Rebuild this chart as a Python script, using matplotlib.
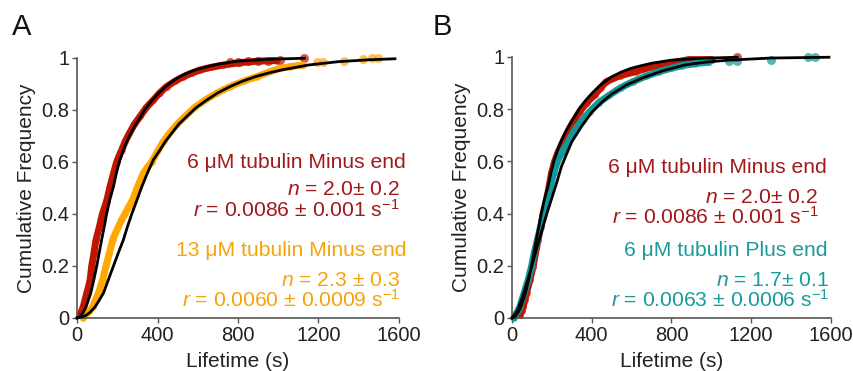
import matplotlib
matplotlib.use('Agg')
import matplotlib.pyplot as plt

plt.rcParams['font.family'] = ['Liberation Sans', 'DejaVu Sans']
plt.rcParams['mathtext.fontset'] = 'custom'
plt.rcParams['mathtext.rm'] = 'Liberation Sans'
plt.rcParams['mathtext.it'] = 'Liberation Sans:italic'

# ---- data (lifetime in s, cumulative frequency) ----
# panel A, 6 uM minus end
minus6a_t = [15, 22, 31, 40, 48, 57, 65, 73, 84, 94, 111, 126, 147, 164, 181, 197, 210, 222, 240, 260,
             285, 313, 345, 379, 410, 445, 485, 528, 570, 611, 665, 727, 810, 900, 993]
minus6a_f = [0.01, 0.025, 0.043, 0.07, 0.095, 0.12, 0.146, 0.2, 0.25, 0.30, 0.35, 0.40, 0.45, 0.505, 0.555,
             0.60, 0.625, 0.646, 0.68, 0.71, 0.745, 0.775, 0.81, 0.838, 0.865, 0.89, 0.91, 0.928, 0.942,
             0.954, 0.964, 0.973, 0.982, 0.988, 0.99]
minus6a_tail_t = [760, 800, 850, 900, 950, 1008, 1128]
minus6a_tail_f = [0.985, 0.986, 0.988, 0.99, 0.99, 0.992, 1.0]

# panel A, 13 uM minus end
minus13_t = [30, 40, 60, 78, 92, 106, 127, 144, 161, 177, 190, 205, 220, 238, 257, 276, 301, 329, 350, 371,
             404, 430, 459, 497, 537, 585, 636, 695, 760, 825, 893, 950, 1008, 1060, 1125]
minus13_f = [0.0, 0.01, 0.025, 0.043, 0.07, 0.095, 0.146, 0.2, 0.25, 0.30, 0.325, 0.35, 0.375, 0.40, 0.428,
             0.454, 0.505, 0.556, 0.58, 0.60, 0.646, 0.68, 0.71, 0.745, 0.775, 0.81, 0.838, 0.865, 0.89,
             0.91, 0.928, 0.945, 0.96, 0.967, 0.973]
minus13_tail_t = [1192, 1222, 1328, 1421, 1464, 1497]
minus13_tail_f = [0.983, 0.983, 0.99, 0.996, 1.0, 1.0]

# panel B, 6 uM minus end
minus6b_t = [40, 48, 56, 65, 73, 90, 106, 118, 131, 145, 156, 173, 186, 198, 214, 230, 248, 268, 289, 314,
             339, 375, 414, 445, 472, 540, 621, 700, 788, 887, 950, 1003]
minus6b_f = [0.01, 0.025, 0.043, 0.07, 0.095, 0.146, 0.197, 0.248, 0.30, 0.35, 0.40, 0.452, 0.503, 0.554,
             0.60, 0.633, 0.663, 0.695, 0.727, 0.76, 0.79, 0.825, 0.854, 0.882, 0.905, 0.928, 0.944, 0.962,
             0.976, 0.99, 0.99, 0.99]
minus6b_tail_t = [1127]
minus6b_tail_f = [1.0]

# panel B, 6 uM plus end
plus6_t = [10, 15, 28, 40, 50, 61, 81, 98, 111, 128, 143, 160, 176, 193, 209, 228, 250, 273, 297, 322, 355,
           389, 435, 489, 545, 605, 670, 738, 800, 854, 920, 987]
plus6_f = [0.0, 0.01, 0.025, 0.043, 0.07, 0.095, 0.146, 0.197, 0.248, 0.30, 0.35, 0.40, 0.452, 0.503, 0.554,
           0.60, 0.633, 0.663, 0.695, 0.727, 0.76, 0.79, 0.825, 0.854, 0.882, 0.905, 0.926, 0.944, 0.957,
           0.967, 0.975, 0.98]
plus6_tail_t = [1087, 1127, 1301, 1486, 1520]
plus6_tail_f = [0.985, 0.985, 0.99, 1.0, 1.0]

# gamma fits (black lines)
fit_minus6_t = [0, 15, 30, 45, 68, 83, 98, 110, 122, 135, 147, 163, 181, 195, 210, 230, 248, 267, 290, 313,
                340, 371, 400, 437, 470, 503, 550, 595, 650, 700, 800, 950, 1130]
fit_minus6_f = [0.0, 0.005, 0.02, 0.043, 0.095, 0.145, 0.2, 0.25, 0.3, 0.35, 0.4, 0.455, 0.505, 0.555, 0.6,
                0.646, 0.68, 0.71, 0.742, 0.77, 0.805, 0.835, 0.86, 0.888, 0.908, 0.925, 0.943, 0.956,
                0.967, 0.976, 0.988, 0.995, 0.999]
fit_minus13_t = [0, 40, 65, 90, 110, 131, 156, 181, 205, 230, 250, 272, 297, 322, 350, 379, 412, 440, 470,
                 505, 545, 590, 644, 700, 760, 820, 885, 950, 1017, 1150, 1300, 1450, 1580]
fit_minus13_f = [0.0, 0.008, 0.022, 0.043, 0.068, 0.095, 0.148, 0.2, 0.25, 0.3, 0.35, 0.4, 0.452, 0.505,
                 0.558, 0.608, 0.646, 0.68, 0.71, 0.745, 0.775, 0.808, 0.838, 0.866, 0.89, 0.91, 0.928,
                 0.942, 0.954, 0.973, 0.986, 0.993, 0.997]
fit_plus6_t = [0, 25, 50, 75, 100, 125, 150, 175, 200, 225, 248, 275, 300, 350, 400, 450, 500, 575, 655,
               760, 870, 980, 1090, 1300, 1590]
fit_plus6_f = [0.0, 0.025, 0.075, 0.135, 0.2, 0.268, 0.335, 0.4, 0.46, 0.52, 0.58, 0.63, 0.675, 0.735,
               0.788, 0.826, 0.858, 0.893, 0.92, 0.948, 0.97, 0.981, 0.988, 0.996, 0.999]

red = '#C01600'
red_txt = '#A01A1C'
orange = '#FFA800'
orange_txt = '#F7A30A'
teal = '#10999A'
teal_txt = '#1A9A9A'

fig = plt.figure(figsize=(8.54, 3.71), dpi=100)
axA = fig.add_axes([0.0902, 0.1429, 0.377, 0.7008])
axB = fig.add_axes([0.5995, 0.1429, 0.3735, 0.7035])


def band(ax, t, f, tt, tf, c):
    ax.plot(t, f, color=c, lw=5, solid_capstyle='round', solid_joinstyle='round', clip_on=False, zorder=2)
    ax.plot(t, f, 'o', color=c, ms=5, alpha=0.6, mec='none', clip_on=False, zorder=2)
    ax.plot(tt, tf, 'o', color=c, ms=6.5, alpha=0.7, mec='none', clip_on=False, zorder=2)


band(axA, minus6a_t, minus6a_f, minus6a_tail_t, minus6a_tail_f, red)
band(axA, minus13_t, minus13_f, minus13_tail_t, minus13_tail_f, orange)
axA.plot(fit_minus6_t, fit_minus6_f, color='black', lw=2, zorder=3, clip_on=False)
axA.plot(fit_minus13_t, fit_minus13_f, color='black', lw=2, zorder=3, clip_on=False)

band(axB, minus6b_t, minus6b_f, minus6b_tail_t, minus6b_tail_f, red)
band(axB, plus6_t, plus6_f, plus6_tail_t, plus6_tail_f, teal)
axB.plot(fit_minus6_t, fit_minus6_f, color='black', lw=2, zorder=3, clip_on=False)
axB.plot(fit_plus6_t, fit_plus6_f, color='black', lw=2, zorder=3, clip_on=False)

for ax in (axA, axB):
    ax.set_xlim(0, 1600)
    ax.set_ylim(0, 1)
    ax.set_xticks([0, 400, 800, 1200, 1600])
    ax.set_yticks([0, 0.2, 0.4, 0.6, 0.8, 1])
    ax.set_yticklabels(['0', '0.2', '0.4', '0.6', '0.8', '1'])
    for s in ('top', 'right'):
        ax.spines[s].set_visible(False)
    for s in ('left', 'bottom'):
        ax.spines[s].set_color('#555555')
        ax.spines[s].set_linewidth(1.2)
    ax.tick_params(direction='out', length=3.5, width=1, color='#555555',
                   labelcolor='#222222', labelsize=14.5, pad=2)
    ax.set_xlabel('Lifetime (s)', fontsize=15, color='#222222', labelpad=5)
    ax.set_ylabel('Cumulative Frequency', fontsize=15, color='#222222', labelpad=4)

txt = dict(ha='right', va='baseline', fontsize=15.2)
axA.text(1.022, 0.577, '6 μM tubulin Minus end', color=red_txt, transform=axA.transAxes, **txt)
axA.text(1.003, 0.473, '$n$ = 2.0± 0.2', color=red_txt, transform=axA.transAxes, **txt)
axA.text(1.003, 0.388, '$r$ = 0.0086 ± 0.001 s$^{-1}$', color=red_txt, transform=axA.transAxes, **txt)
axA.text(1.022, 0.238, '13 μM tubulin Minus end', color=orange_txt, transform=axA.transAxes, **txt)
axA.text(1.003, 0.123, '$n$ = 2.3 ± 0.3', color=orange_txt, transform=axA.transAxes, **txt)
axA.text(1.003, 0.042, '$r$ = 0.0060 ± 0.0009 s$^{-1}$', color=orange_txt, transform=axA.transAxes, **txt)

axB.text(0.988, 0.556, '6 μM tubulin Minus end', color=red_txt, transform=axB.transAxes, **txt)
axB.text(0.96, 0.441, '$n$ = 2.0± 0.2', color=red_txt, transform=axB.transAxes, **txt)
axB.text(0.96, 0.360, '$r$ = 0.0086 ± 0.001 s$^{-1}$', color=red_txt, transform=axB.transAxes, **txt)
axB.text(0.988, 0.238, '6 μM tubulin Plus end', color=teal_txt, transform=axB.transAxes, **txt)
axB.text(0.995, 0.123, '$n$ = 1.7± 0.1', color=teal_txt, transform=axB.transAxes, **txt)
axB.text(0.995, 0.042, '$r$ = 0.0063 ± 0.0006 s$^{-1}$', color=teal_txt, transform=axB.transAxes, **txt)

fig.text(0.014, 0.965, 'A', fontsize=21, va='top', ha='left', color='#111111')
fig.text(0.507, 0.965, 'B', fontsize=21, va='top', ha='left', color='#111111')

fig.savefig('out.png', dpi=100)
